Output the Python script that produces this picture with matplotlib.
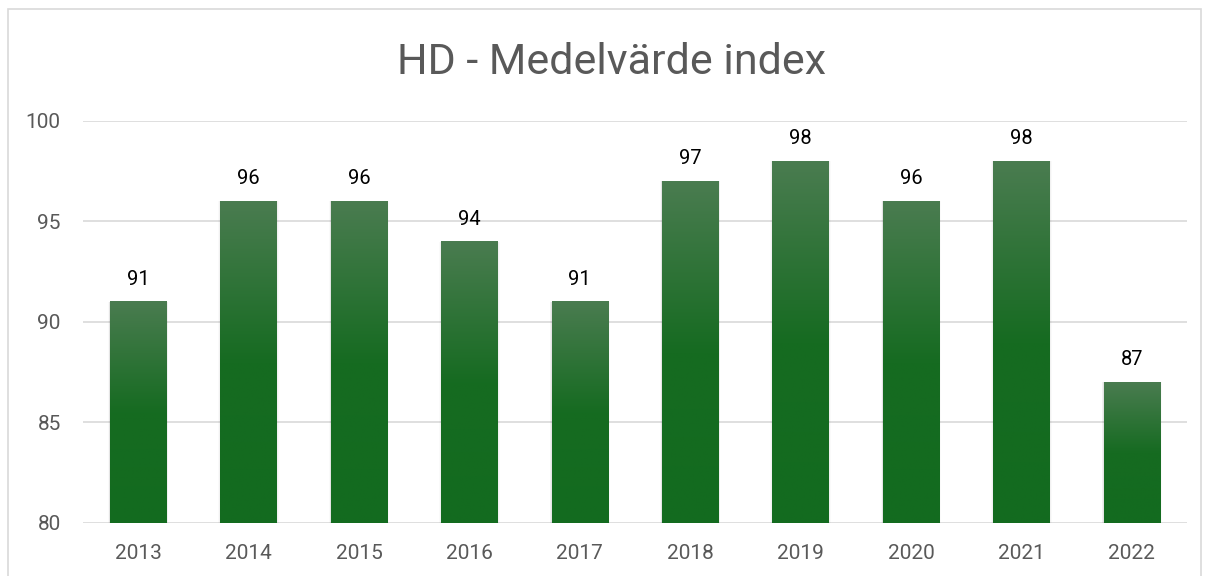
import matplotlib.pyplot as plt
import matplotlib.patches as patches
from matplotlib.colors import LinearSegmentedColormap
import numpy as np

years = ["2013", "2014", "2015", "2016", "2017", "2018", "2019", "2020", "2021", "2022"]
values = [91, 96, 96, 94, 91, 97, 98, 96, 98, 87]
title = "HD - Medelvärde index"

plt.rcParams['font.family'] = ['Roboto', 'DejaVu Sans']

fig = plt.figure(figsize=(12.05, 5.76), dpi=100)
ax = fig.add_axes([83 / 1205, 1 - 523 / 576, 1104 / 1205, 402 / 576])

# chart border
fig.patches.append(patches.Rectangle((8 / 1205, -0.1), 1193 / 1205, 1.1 - 9 / 576,
                                     transform=fig.transFigure, fill=False,
                                     edgecolor='#d9d9d9', linewidth=1.2))

x = np.arange(len(years))
bars = ax.bar(x, values, width=0.51, color='none', zorder=3)

cmap = LinearSegmentedColormap.from_list('g', ['#136b1f', '#166b21', '#4a7c50'])
grad = np.linspace(0, 1, 256).reshape(-1, 1)
for b in bars:
    x0, w, h = b.get_x(), b.get_width(), b.get_height()
    # soft shadow on the sides
    for i, a in enumerate([0.05, 0.035, 0.02]):
        d = 0.006 * (i + 1)
        ax.add_patch(patches.Rectangle((x0 - d, 80), w + 2 * d, h - 80,
                                       facecolor='black', alpha=a, linewidth=0, zorder=2))
    ax.imshow(grad, extent=[x0, x0 + w, 80, h], origin='lower', cmap=cmap,
              aspect='auto', zorder=3, interpolation='bilinear')
    ax.text(x0 + w / 2, h + 0.65, str(h), ha='center', va='bottom', fontsize=14.5, color='black')

ax.set_xlim(-0.5, len(years) - 0.5)
ax.set_ylim(80, 100)
ax.set_yticks([80, 85, 90, 95, 100])
ax.set_xticks(x)
ax.set_xticklabels(years)
ax.tick_params(length=0, labelsize=15, colors='#595959')
ax.tick_params(axis='y', pad=16)
ax.tick_params(axis='x', pad=15)
ax.grid(axis='y', color='#d9d9d9', linewidth=1.2, zorder=0)
ax.set_axisbelow(True)
for s in ax.spines.values():
    s.set_visible(False)

fig.text(612 / 1205, 1 - 62 / 576, title, ha='center', va='center', fontsize=31, color='#595959')

fig.savefig('out.png', dpi=100)
